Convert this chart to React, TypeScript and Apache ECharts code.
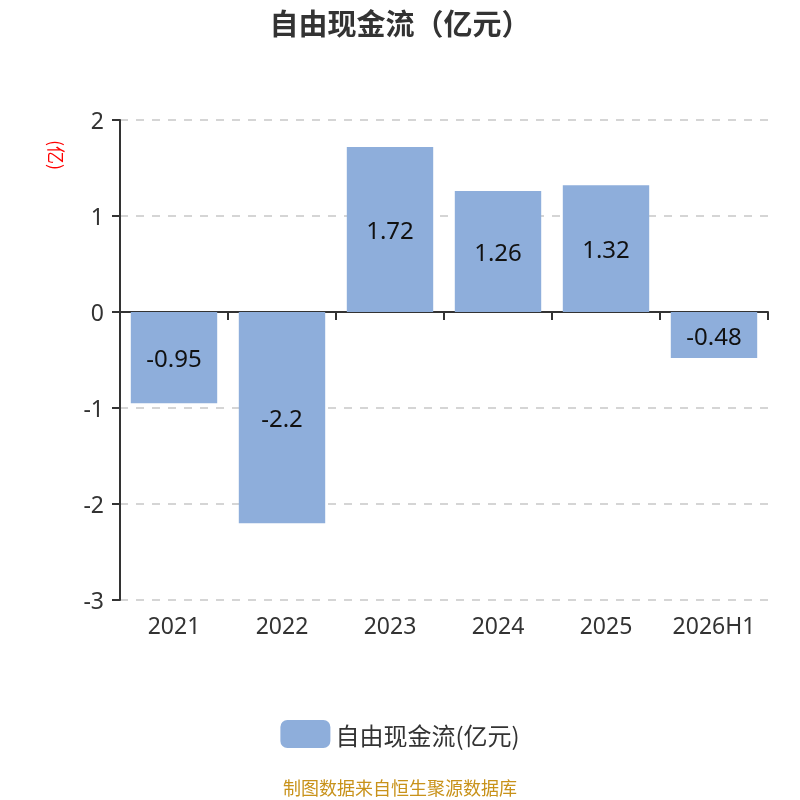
import React, { useEffect, useRef } from "react";
import * as echarts from "echarts";

const categories = ["2021", "2022", "2023", "2024", "2025", "2026H1"];
const values = [-0.95, -2.2, 1.72, 1.26, 1.32, -0.48];
const seriesName = "自由现金流(亿元)";
const titleText = "自由现金流（亿元）";
const unitText = "(亿)";
const sourceText = "制图数据来自恒生聚源数据库";

export default function App() {
  const ref = useRef<HTMLDivElement>(null);
  useEffect(() => {
    if (!ref.current) return;
    const chart = echarts.init(ref.current, undefined, { renderer: "svg" });
    chart.setOption({
      animation: false,
      title: {
        text: titleText,
        left: "center",
        top: 2,
        textStyle: { fontSize: 29, fontWeight: "bold", color: "#333", fontFamily: "Noto Sans CJK SC" },
      },
      grid: { left: 120, right: 32, top: 120, bottom: 200 },
      legend: {
        bottom: 47,
        left: "center",
        itemWidth: 50,
        itemHeight: 28,
        itemGap: 10,
        textStyle: { fontSize: 24, color: "#333", fontFamily: "Noto Sans CJK SC" },
        data: [{ name: seriesName, icon: "roundRect" }],
      },
      graphic: [
        {
          type: "text",
          x: 57,
          y: 155,
          rotation: -Math.PI / 2,
          style: {
            text: unitText,
            fill: "#ff0000",
            fontSize: 18,
            fontFamily: "Noto Sans CJK SC",
            align: "center",
            verticalAlign: "middle",
          },
        },
        {
          type: "text",
          left: "center",
          top: 778,
          style: {
            text: sourceText,
            fill: "#c8921a",
            fontSize: 18,
            fontFamily: "Noto Sans CJK SC",
          },
        },
      ],
      xAxis: {
        type: "category",
        data: categories,
        axisLine: { onZero: true, lineStyle: { color: "#333", width: 2 } },
        axisTick: { show: true, interval: 0, length: 8, lineStyle: { color: "#333", width: 2 } },
        axisLabel: {
          interval: 0,
          hideOverlap: false,
          position: "bottom",
          fontSize: 23,
          color: "#333",
          fontFamily: "Noto Sans",
          margin: 13,
        },
      },
      yAxis: {
        type: "value",
        min: -3,
        max: 2,
        interval: 1,
        axisLine: { show: true, lineStyle: { color: "#333", width: 2 } },
        axisTick: { show: true, length: 8, lineStyle: { color: "#333", width: 2 } },
        axisLabel: { fontSize: 23, color: "#333", fontFamily: "Noto Sans", margin: 16 },
        splitLine: { show: true, lineStyle: { type: [8, 8], color: "#c8c8c8", width: 1.5 } },
      },
      series: [
        {
          name: seriesName,
          type: "bar",
          data: values,
          barWidth: "80%",
          itemStyle: { color: "#8eaedb" },
          label: {
            show: true,
            position: "inside",
            fontSize: 24,
            color: "#111",
            fontFamily: "Noto Sans",
          },
        },
      ],
    });
    return () => chart.dispose();
  }, []);
  return (
    <div
      ref={ref}
      style={{ position: "fixed", left: 0, top: 0, width: 800, height: 800 }}
    />
  );
}
